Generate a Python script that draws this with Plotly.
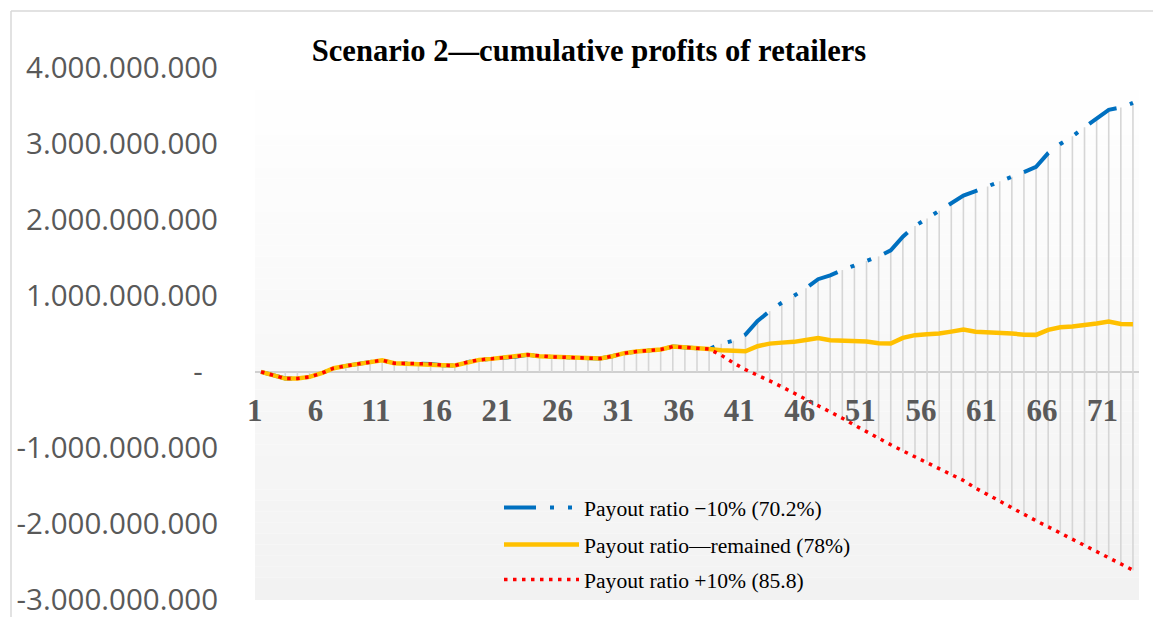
import plotly.graph_objects as go

periods = list(range(1, 74))

# Cumulative profits
payout_minus10 = [
    0, -0.048e9, -0.088e9, -0.088e9, -0.066e9, -0.018e9, 0.048e9, 0.079e9, 0.100e9, 0.127e9,
    0.153e9, 0.114e9, 0.110e9, 0.110e9, 0.105e9, 0.088e9, 0.083e9, 0.127e9, 0.158e9, 0.171e9,
    0.184e9, 0.200e9, 0.224e9, 0.206e9, 0.197e9, 0.193e9, 0.189e9, 0.184e9, 0.175e9, 0.206e9,
    0.246e9, 0.268e9, 0.276e9, 0.294e9, 0.333e9, 0.325e9, 0.310e9, 0.300e9,
    0.37e9, 0.41e9, 0.49e9, 0.67e9, 0.80e9, 0.91e9, 1.00e9, 1.10e9, 1.22e9, 1.27e9,
    1.34e9, 1.40e9, 1.46e9, 1.52e9, 1.60e9, 1.78e9, 1.92e9, 2.02e9, 2.12e9, 2.22e9,
    2.32e9, 2.38e9, 2.44e9, 2.51e9, 2.57e9, 2.63e9, 2.70e9, 2.88e9, 3.00e9, 3.10e9,
    3.22e9, 3.33e9, 3.45e9, 3.48e9, 3.54e9,
]
payout_remained = [
    0, -0.048e9, -0.088e9, -0.088e9, -0.066e9, -0.018e9, 0.048e9, 0.079e9, 0.100e9, 0.127e9,
    0.153e9, 0.114e9, 0.110e9, 0.110e9, 0.105e9, 0.088e9, 0.083e9, 0.127e9, 0.158e9, 0.171e9,
    0.184e9, 0.200e9, 0.224e9, 0.206e9, 0.197e9, 0.193e9, 0.189e9, 0.184e9, 0.175e9, 0.206e9,
    0.246e9, 0.268e9, 0.276e9, 0.294e9, 0.333e9, 0.325e9, 0.310e9, 0.300e9,
    0.285e9, 0.280e9, 0.272e9, 0.338e9, 0.372e9, 0.385e9, 0.395e9, 0.420e9, 0.445e9, 0.417e9,
    0.413e9, 0.408e9, 0.400e9, 0.378e9, 0.373e9, 0.447e9, 0.483e9, 0.496e9, 0.505e9, 0.530e9,
    0.558e9, 0.527e9, 0.522e9, 0.513e9, 0.505e9, 0.490e9, 0.487e9, 0.553e9, 0.588e9, 0.597e9,
    0.610e9, 0.637e9, 0.663e9, 0.630e9, 0.627e9,
]
payout_plus10 = [
    0, -0.048e9, -0.088e9, -0.088e9, -0.066e9, -0.018e9, 0.048e9, 0.079e9, 0.100e9, 0.127e9,
    0.153e9, 0.114e9, 0.110e9, 0.110e9, 0.105e9, 0.088e9, 0.083e9, 0.127e9, 0.158e9, 0.171e9,
    0.184e9, 0.200e9, 0.224e9, 0.206e9, 0.197e9, 0.193e9, 0.189e9, 0.184e9, 0.175e9, 0.206e9,
    0.246e9, 0.268e9, 0.276e9, 0.294e9, 0.333e9, 0.325e9, 0.310e9, 0.300e9,
    0.22e9, 0.118e9, 0.03e9, -0.04e9, -0.118e9, -0.197e9, -0.28e9, -0.36e9, -0.438e9, -0.52e9,
    -0.61e9, -0.70e9, -0.79e9, -0.876e9, -0.96e9, -1.04e9, -1.12e9, -1.19e9, -1.276e9, -1.36e9,
    -1.43e9, -1.53e9, -1.61e9, -1.70e9, -1.79e9, -1.88e9, -1.96e9, -2.04e9, -2.12e9, -2.20e9,
    -2.28e9, -2.36e9, -2.44e9, -2.52e9, -2.61e9,
]

series_names = [
    "Payout ratio \u221210% (70.2%)",
    "Payout ratio\u2014remained (78%)",
    "Payout ratio +10% (85.8)",
]
x_tick_values = [1, 6, 11, 16, 21, 26, 31, 36, 41, 46, 51, 56, 61, 66, 71]
y_tick_values = [4e9, 3e9, 2e9, 1e9, 0, -1e9, -2e9, -3e9]
y_tick_labels = ["4.000.000.000", "3.000.000.000", "2.000.000.000", "1.000.000.000",
                 "-\u00a0\u00a0", "-1.000.000.000", "-2.000.000.000", "-3.000.000.000"]

# the page body adds an 8px offset; the figure is sized to fill the rest of the window
OFF = 8
W, H = 1161 - OFF, 617 - OFF
ML, MR, MT, MB = 255 - OFF, 22, 68 - OFF, 17
PW, PH = W - ML - MR, H - MT - MB


def px_x(p):
    return (p - OFF - ML) / PW


def px_y(p):
    return (H - MB - (p - OFF)) / PH


fig = go.Figure()

# drop/high-low lines
dx, dy = [], []
for i, k in enumerate(periods):
    vals = [payout_minus10[i], payout_remained[i], payout_plus10[i], 0]
    dx += [k, k, None]
    dy += [min(vals), max(vals), None]
fig.add_trace(go.Scatter(x=dx, y=dy, mode="lines", line=dict(color="#d6d6d6", width=1.6),
                         showlegend=False, hoverinfo="skip"))

fig.add_trace(go.Scatter(x=periods, y=payout_minus10, mode="lines", name=series_names[0],
                         line=dict(color="#0070C0", width=4, dash="32px,14px,4px,14px,4px,14px"),
                         legend="legend"))
fig.add_trace(go.Scatter(x=periods, y=payout_remained, mode="lines", name=series_names[1],
                         line=dict(color="#FFC000", width=4.5), legend="legend2"))
fig.add_trace(go.Scatter(x=periods, y=payout_plus10, mode="lines", name=series_names[2],
                         line=dict(color="#FF0000", width=3.5, dash="3.5px,5.5px"),
                         legend="legend3"))

shapes = []
N = 48
for i in range(N):
    f = (i + 0.5) / N
    c = int(round(0xf2 + (0xff - 0xf2) * f))
    shapes.append(dict(type="rect", xref="paper", yref="paper", x0=0, x1=1,
                       y0=i / N, y1=(i + 1) / N, fillcolor=f"rgb({c},{c},{c})",
                       line=dict(width=0), layer="below"))
# chart border
shapes.append(dict(type="line", xref="paper", yref="paper", x0=px_x(11), x1=px_x(1175),
                   y0=px_y(11), y1=px_y(11), line=dict(color="#d9d9d9", width=1.5)))
shapes.append(dict(type="line", xref="paper", yref="paper", x0=px_x(11), x1=px_x(11),
                   y0=px_y(11), y1=px_y(640), line=dict(color="#d9d9d9", width=1.5)))

legend_font = dict(family="Liberation Serif", size=21.6, color="#000000")
leg_common = dict(xanchor="left", yanchor="middle", bgcolor="rgba(0,0,0,0)",
                  font=legend_font, itemwidth=75)

fig.update_layout(
    width=W, height=H,
    margin=dict(l=ML, r=MR, t=MT, b=MB, pad=0, autoexpand=False),
    paper_bgcolor="white", plot_bgcolor="white",
    title=dict(text="<b>Scenario 2\u2014cumulative profits of retailers</b>",
               font=dict(family="Liberation Serif", size=30.6, color="#000000"),
               x=(589 - OFF) / W, xanchor="center", y=1 - (50 - OFF) / H, yanchor="middle"),
    xaxis=dict(range=[0.5, 73.5], tickmode="array", tickvals=x_tick_values,
               ticktext=[str(v) + "\u2009\u2009" for v in x_tick_values],
               showgrid=False, zeroline=False, showline=False, ticks="",
               anchor="free", position=3 / 7, ticklabelstandoff=17, automargin=False,
               tickfont=dict(family="Liberation Serif", size=31, color="#595959", weight="bold")),
    yaxis=dict(range=[-3.003e9, 4.0e9], tickmode="array", tickvals=y_tick_values,
               ticktext=y_tick_labels, showgrid=False, zeroline=True,
               zerolinecolor="#d0d0d0", zerolinewidth=1.5, showline=False, ticks="",
               ticklabelstandoff=36, ticklabeloverflow="allow", automargin=False,
               tickfont=dict(family="Open Sans", size=29.5, color="#595959")),
    legend=dict(x=px_x(499), y=px_y(508), **leg_common),
    legend2=dict(x=px_x(499), y=px_y(545), **leg_common),
    legend3=dict(x=px_x(499), y=px_y(580), **leg_common),
    shapes=shapes,
)

fig.write_html("out.html")
